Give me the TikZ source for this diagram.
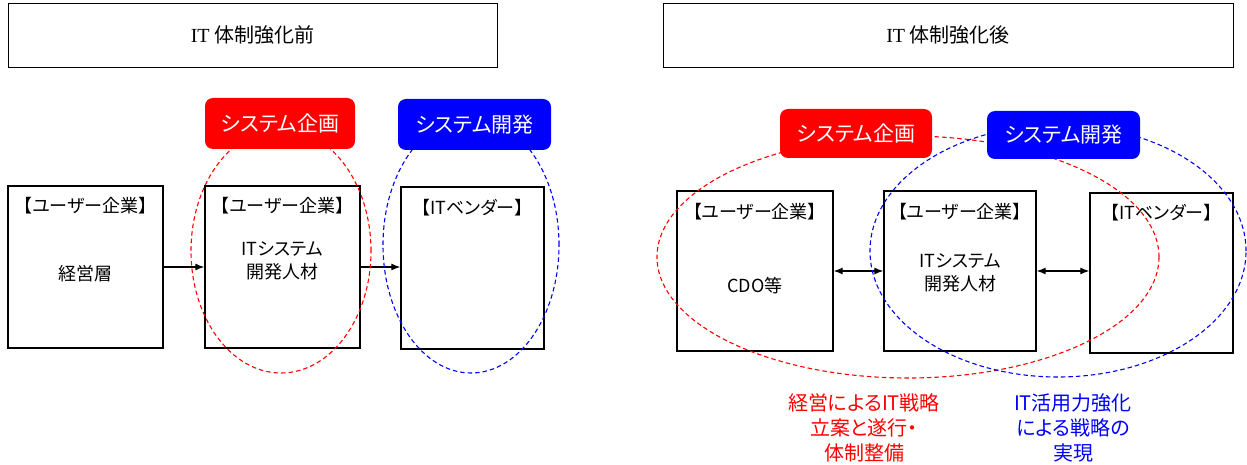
\documentclass[tikz,border=0pt]{standalone}
\usepackage{fontspec}
\setmainfont{Noto Sans CJK JP}[RawFeature={+palt}]
\newfontfamily\titlelat{Liberation Serif}
\usetikzlibrary{shapes.geometric,arrows.meta}
\begin{document}
\begin{tikzpicture}[x=1pt,y=-1pt,
  titlebox/.style={draw=black, line width=0.8pt, fill=white, inner sep=0pt},
  orgbox/.style={draw=black, line width=1.3pt, inner sep=0pt},
  boxtxt/.style={font=\fontsize{18}{23}\selectfont, align=center, inner sep=0pt},
  lbl/.style={rounded corners=8pt, inner sep=0pt, text=white, font=\fontsize{21}{24}\selectfont},
  ring/.style={ellipse, dash pattern=on 4.5pt off 3pt, line width=1.1pt, inner sep=0pt},
  arr/.style={line width=1.2pt, -{Latex[length=9pt,width=7pt]}},
  darr/.style={line width=1.2pt, {Latex[length=9pt,width=7pt]}-{Latex[length=9pt,width=7pt]}},
  note/.style={font=\fontsize{20}{25}\selectfont, align=center, inner sep=0pt}
]
\useasboundingbox[fill=white] (0,0) rectangle (1247,465);

% titles
\node[titlebox, minimum width=489pt, minimum height=64pt] (T1) at (252.5,35) {};
\node[font=\fontsize{20}{22}\selectfont] (T1t) at (T1) {{\titlelat IT} 体制強化前};
\node[titlebox, minimum width=570pt, minimum height=64pt] (T2) at (948,35) {};
\node[font=\fontsize{20}{22}\selectfont] (T2t) at (T2) {{\titlelat IT} 体制強化後};

% left boxes
\node[orgbox, minimum width=155pt, minimum height=162pt] (A) at (85.5,267) {};
\node[orgbox, minimum width=155pt, minimum height=162pt] (B) at (282.5,267) {};
\node[orgbox, minimum width=143pt, minimum height=162pt] (C) at (472.5,268) {};
\node[boxtxt] (At) at (85.5,206) {【ユーザー企業】};
\node[boxtxt] (Am) at (85.5,274) {経営層};
\node[boxtxt] (Bt) at (282.5,206) {【ユーザー企業】};
\node[boxtxt] (Bm) at (282.5,261) {ITシステム\\開発人材};
\node[boxtxt] (Ct) at (472.5,208) {【ITベンダー】};

\draw[arr] (A.east) -- (B.west);
\draw[arr] (B.east) -- (B.east -| C.west);

% right boxes
\node[orgbox, minimum width=156pt, minimum height=160pt] (D) at (755,271) {};
\node[orgbox, minimum width=152pt, minimum height=160pt] (E) at (960,271) {};
\node[orgbox, minimum width=143pt, minimum height=160pt] (F) at (1161.5,273) {};
\node[boxtxt] (Dt) at (755,212) {【ユーザー企業】};
\node[boxtxt] (Dm) at (755,286) {CDO等};
\node[boxtxt] (Et) at (960,212) {【ユーザー企業】};
\node[boxtxt] (Em) at (960,273) {ITシステム\\開発人材};
\node[boxtxt] (Ft) at (1161.5,213) {【ITベンダー】};

\draw[darr] (D.east) -- (E.west);
\draw[darr] (E.east) -- (E.east -| F.west);

% ellipses
\node[ring, draw=red, minimum width=180pt, minimum height=244pt] (R1) at (281,251) {};
\node[ring, draw=blue, minimum width=176pt, minimum height=256pt] (B1) at (471,245) {};
\node[ring, draw=red, minimum width=502pt, minimum height=242pt] (R2) at (908,257) {};
\node[ring, draw=blue, minimum width=376pt, minimum height=252pt] (B2) at (1058,251) {};

% labels
\node[lbl, fill=red, minimum width=150pt, minimum height=51pt] (L1) at (280,123.5) {システム企画};
\node[lbl, fill=blue, minimum width=153pt, minimum height=51pt] (L2) at (474.5,124.5) {システム開発};
\node[lbl, fill=red, minimum width=152pt, minimum height=49pt] (L3) at (856,133.5) {システム企画};
\node[lbl, fill=blue, minimum width=153pt, minimum height=48pt] (L4) at (1063.5,135) {システム開発};

% notes
\node[note, text=red] (N1) at (864,428) {経営によるIT戦略\\立案と遂行・\\体制整備};
\node[note, text=blue] (N2) at (1073,428) {IT活用力強化\\による戦略の\\実現};
\end{tikzpicture}
\end{document}
